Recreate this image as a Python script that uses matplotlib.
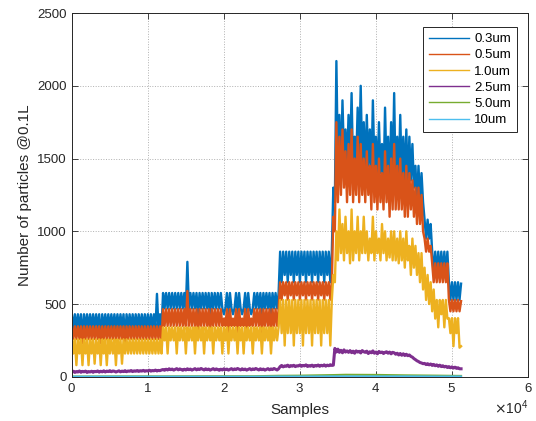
import numpy as np
import matplotlib
matplotlib.use("Agg")
import matplotlib.pyplot as plt
from matplotlib.ticker import ScalarFormatter

plt.rcParams['font.family'] = ['Liberation Sans', 'DejaVu Sans']

# sample index of every value below (one reading every 200 samples)
samples = np.arange(0, 51201, 200)

# particle counts, 20 readings per row
pm03 = [
    430, 330, 430, 330, 430, 330, 430, 260, 430, 330, 430, 330, 430, 330, 430, 330, 430, 330, 430, 260,
    430, 330, 430, 330, 430, 330, 430, 330, 430, 330, 430, 330, 430, 330, 430, 260, 430, 330, 430, 330,
    430, 330, 430, 330, 430, 330, 430, 330, 430, 330, 430, 330, 430, 330, 430, 330, 570, 330, 430, 330,
    576, 470, 576, 470, 576, 470, 576, 470, 576, 470, 576, 470, 576, 470, 576, 470, 790, 470, 576, 470,
    576, 470, 576, 430, 576, 470, 576, 470, 576, 470, 576, 430, 576, 470, 576, 470, 576, 470, 576, 470,
    430, 470, 576, 430, 576, 470, 430, 470, 576, 430, 576, 470, 430, 470, 576, 430, 576, 470, 430, 470,
    576, 470, 576, 470, 576, 430, 576, 470, 576, 470, 576, 430, 576, 470, 576, 470, 576,
    860, 650, 860, 700, 860, 650, 860, 700, 860, 650, 860, 700, 860, 650, 860, 700, 860, 650, 860, 700,
    860, 650, 860, 700, 860, 650, 860, 700, 860, 650, 860, 700, 860, 650, 860,
    1300, 1200, 2170, 1450, 1800, 1400, 1900, 1500, 1700, 1450, 1800, 1500, 1950, 1400, 1650, 1450, 1850, 1500, 2000, 1450,
    1750, 1400, 1800, 1450, 1700, 1350, 1900, 1450, 1650, 1350, 1750, 1400, 1600, 1300, 1850, 1400, 1650, 1300, 1750, 1350,
    1950, 1300, 1650, 1350, 1800, 1350, 1650, 1350, 1700, 1300, 1650, 1350, 1600, 1300, 1450, 1200, 1450, 1200, 1400, 1200,
    1080, 950, 1080, 950, 1050, 860, 700, 860, 700, 860, 700, 860, 700, 860, 700, 860, 650, 530, 650, 530,
    650, 530, 650, 530, 640]
pm05 = [
    347, 260, 347, 260, 347, 260, 347, 230, 347, 260, 347, 260, 347, 260, 347, 260, 347, 260, 347, 230,
    347, 260, 347, 260, 347, 260, 347, 260, 347, 260, 347, 260, 347, 260, 347, 230, 347, 260, 347, 260,
    347, 260, 347, 260, 347, 260, 347, 260, 347, 260, 347, 260, 347, 260, 347, 260, 347, 260, 347, 260,
    465, 350, 465, 350, 465, 350, 465, 350, 465, 350, 465, 350, 465, 350, 465, 350, 590, 350, 465, 350,
    465, 350, 465, 300, 465, 350, 465, 350, 465, 350, 465, 300, 465, 350, 465, 350, 465, 350, 465, 350,
    400, 350, 465, 300, 465, 350, 400, 350, 465, 300, 465, 350, 400, 350, 465, 300, 465, 350, 400, 350,
    465, 350, 465, 350, 465, 300, 465, 350, 465, 350, 465, 300, 465, 350, 465, 350, 465,
    650, 530, 650, 560, 650, 530, 650, 560, 650, 530, 650, 560, 650, 530, 650, 560, 650, 530, 650, 560,
    650, 530, 650, 560, 650, 530, 650, 560, 650, 530, 650, 560, 650, 530, 650,
    1100, 1000, 1750, 1200, 1650, 1250, 1700, 1300, 1550, 1200, 1600, 1250, 1700, 1200, 1500, 1250, 1650, 1200, 1600, 1250,
    1500, 1200, 1550, 1250, 1450, 1150, 1600, 1200, 1450, 1150, 1500, 1200, 1400, 1150, 1550, 1200, 1450, 1100, 1500, 1150,
    1600, 1150, 1450, 1150, 1500, 1150, 1400, 1100, 1450, 1100, 1400, 1150, 1350, 1100, 1300, 1050, 1300, 1050, 1250, 1000,
    950, 860, 950, 860, 900, 780, 650, 780, 650, 780, 650, 780, 650, 780, 650, 780, 528, 450, 528, 450,
    528, 450, 528, 450, 520]
pm10 = [
    257, 160, 257, 80, 257, 160, 257, 80, 257, 160, 257, 80, 257, 160, 257, 90, 257, 160, 257, 80,
    257, 160, 257, 80, 257, 160, 257, 160, 257, 80, 257, 160, 257, 90, 257, 160, 257, 160, 257, 160,
    257, 160, 257, 160, 257, 160, 257, 160, 257, 160, 257, 160, 257, 160, 257, 160, 257, 160, 257, 160,
    340, 250, 340, 160, 340, 250, 340, 250, 340, 160, 340, 250, 340, 250, 340, 160, 340, 250, 340, 250,
    340, 160, 340, 250, 340, 250, 340, 160, 340, 250, 340, 250, 340, 160, 340, 250, 340, 250, 340, 160,
    340, 250, 340, 160, 340, 250, 340, 250, 340, 160, 340, 250, 340, 160, 340, 250, 340, 250, 340, 160,
    340, 250, 340, 250, 340, 160, 340, 250, 340, 250, 340, 160, 340, 250, 340, 250, 340,
    528, 300, 528, 215, 528, 300, 528, 300, 528, 215, 528, 300, 528, 300, 528, 215, 528, 300, 528, 300,
    528, 215, 528, 300, 528, 300, 528, 215, 528, 300, 528, 300, 528, 215, 528,
    700, 650, 1000, 800, 1150, 850, 1050, 800, 1100, 850, 1000, 780, 1150, 800, 1000, 850, 1100, 800, 1000, 850,
    1100, 850, 1000, 800, 950, 850, 1100, 800, 1000, 850, 950, 800, 1050, 850, 1000, 800, 950, 820, 1000, 800,
    1000, 800, 950, 780, 1000, 800, 950, 750, 1000, 800, 900, 700, 950, 750, 900, 700, 850, 650, 850, 600,
    750, 528, 700, 500, 650, 450, 600, 400, 528, 340, 528, 430, 528, 340, 528, 400, 403, 300, 403, 210,
    403, 300, 403, 200, 210]
pm25 = [
    32, 38, 30, 36, 33, 40, 31, 37, 34, 39, 30, 36, 33, 38, 31, 37, 35, 40, 32, 38,
    34, 41, 33, 39, 36, 42, 35, 40, 38, 33, 37, 41, 34, 39, 36, 42, 35, 40, 38, 43,
    36, 41, 38, 43, 37, 42, 39, 44, 38, 42, 40, 45, 39, 43, 41, 46, 40, 44, 42, 47,
    50, 45, 52, 47, 55, 49, 53, 46, 51, 56, 48, 54, 50, 45, 52, 47, 55, 49, 53, 46,
    51, 56, 48, 54, 50, 57, 52, 47, 55, 49, 53, 46, 51, 56, 48, 54, 50, 45, 52, 47,
    55, 49, 53, 46, 51, 56, 48, 54, 50, 57, 52, 47, 55, 49, 53, 46, 51, 56, 48, 54,
    50, 57, 52, 47, 55, 49, 53, 46, 51, 56, 48, 54, 50, 57, 52, 47, 55,
    70, 78, 68, 75, 72, 80, 69, 77, 73, 79, 70, 76, 74, 81, 72, 78, 75, 82, 71, 77,
    73, 80, 70, 78, 74, 81, 72, 79, 75, 82, 73, 80, 76, 83, 78,
    80, 195, 170, 190, 168, 182, 165, 185, 170, 178, 168, 180, 166, 176, 162, 178, 170, 175, 164, 180,
    172, 168, 176, 160, 172, 165, 178, 162, 170, 158, 174, 166, 170, 160, 168, 172, 162, 170, 158, 168,
    165, 155, 162, 150, 160, 148, 158, 146, 155, 145, 150, 140, 135, 125, 118, 110, 105, 98, 95, 90,
    92, 84, 90, 82, 88, 78, 85, 76, 82, 72, 80, 70, 76, 68, 72, 64, 70, 62, 68, 60,
    66, 58, 62, 55, 55]

# the two largest sizes stay close to zero, read more coarsely
small_samples = [0, 6000, 12000, 18000, 24000, 27200, 30000, 34400, 36000,
                 40000, 44000, 48000, 51200]
pm50 = [2, 3, 3, 4, 4, 7, 8, 12, 14, 13, 10, 8, 6]
pm100 = [1, 1, 1, 1, 1, 2, 2, 3, 3, 3, 3, 2, 2]

labels = ['0.3um', '0.5um', '1.0um', '2.5um', '5.0um', '10um']
colors = ['#0072BD', '#D95319', '#EDB120', '#7E2F8E', '#77AC30', '#4DBEEE']

fig = plt.figure(figsize=(5.36, 4.21), dpi=100)
ax = fig.add_axes([0.134, 0.105, 0.851, 0.864])

# thick strokes so the fast swings read as solid bands
ax.plot(samples, pm03, color=colors[0], lw=1.7, label=labels[0])
ax.plot(samples, pm05, color=colors[1], lw=1.7, label=labels[1])
ax.plot(samples, pm10, color=colors[2], lw=1.7, label=labels[2])
ax.plot(samples, pm25, color=colors[3], lw=2.2, label=labels[3])
ax.plot(small_samples, pm50, color=colors[4], lw=1.5, label=labels[4])
ax.plot(small_samples, pm100, color=colors[5], lw=1.5, label=labels[5])

ax.set_xlim(0, 60000)
ax.set_ylim(0, 2500)
ax.set_xticks(np.arange(0, 60001, 10000))
ax.set_yticks(np.arange(0, 2501, 500))

fmt = ScalarFormatter(useMathText=True)
fmt.set_powerlimits((0, 0))
ax.xaxis.set_major_formatter(fmt)

ax.tick_params(direction='in', top=True, right=True, length=4, width=0.6,
               labelsize=9.5, colors='#262626')
ax.grid(True, linestyle=':', color='#b0b0b0', lw=0.7)
for s in ax.spines.values():
    s.set_color('#262626')
    s.set_linewidth(0.7)

ax.set_xlabel('Samples', fontsize=11, color='#262626', labelpad=6)
ax.set_ylabel('Number of particles @0.1L', fontsize=11, color='#262626')

leg = ax.legend(loc='upper right', bbox_to_anchor=(0.976, 0.9615),
                borderaxespad=0, fontsize=9.5, fancybox=False, framealpha=1,
                edgecolor='#262626', handlelength=3.0, handletextpad=0.4,
                borderpad=0.45, labelspacing=0.3)
leg.get_frame().set_linewidth(0.7)
for h in leg.get_lines():
    h.set_linewidth(1.0)

fig.savefig('out.png', dpi=100)
